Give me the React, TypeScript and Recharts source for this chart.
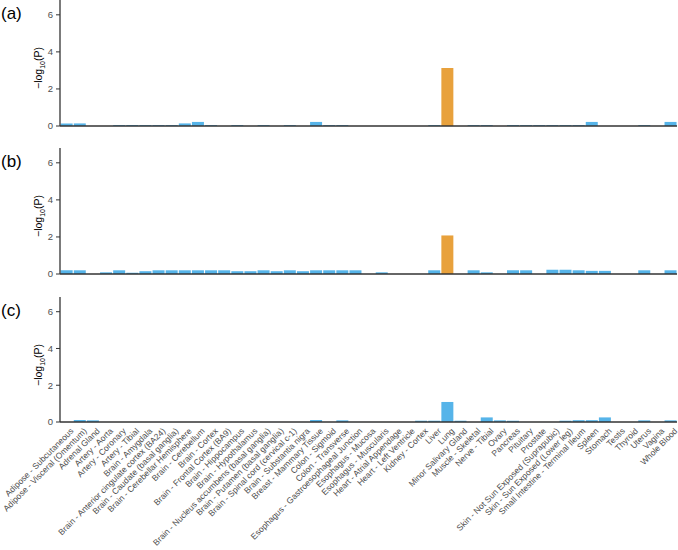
import React from 'react';
import { BarChart, Bar, XAxis, YAxis, Cell } from 'recharts';

const tissues = [
  'Adipose - Subcutaneous', 'Adipose - Visceral (Omentum)', 'Adrenal Gland', 'Artery - Aorta',
  'Artery - Coronary', 'Artery - Tibial', 'Brain - Amygdala', 'Brain - Anterior cingulate cortex (BA24)',
  'Brain - Caudate (basal ganglia)', 'Brain - Cerebellar Hemisphere', 'Brain - Cerebellum', 'Brain - Cortex',
  'Brain - Frontal Cortex (BA9)', 'Brain - Hippocampus', 'Brain - Hypothalamus',
  'Brain - Nucleus accumbens (basal ganglia)', 'Brain - Putamen (basal ganglia)',
  'Brain - Spinal cord (cervical c-1)', 'Brain - Substantia nigra', 'Breast - Mammary Tissue',
  'Colon - Sigmoid', 'Colon - Transverse', 'Esophagus - Gastroesophageal Junction', 'Esophagus - Mucosa',
  'Esophagus - Muscularis', 'Heart - Atrial Appendage', 'Heart - Left Ventricle', 'Kidney - Cortex',
  'Liver', 'Lung', 'Minor Salivary Gland', 'Muscle - Skeletal', 'Nerve - Tibial', 'Ovary', 'Pancreas',
  'Pituitary', 'Prostate', 'Skin - Not Sun Exposed (Suprapubic)', 'Skin - Sun Exposed (Lower leg)',
  'Small Intestine - Terminal Ileum', 'Spleen', 'Stomach', 'Testis', 'Thyroid', 'Uterus', 'Vagina',
  'Whole Blood',
];

// -log10(P) per tissue, panels (a), (b), (c)
const valuesA = [
  0.14, 0.14, 0, 0, 0.05, 0.05, 0.05, 0.05, 0.05, 0.14, 0.22, 0.05, 0, 0.05, 0, 0.05, 0, 0.05, 0, 0.22,
  0.05, 0.05, 0, 0, 0, 0, 0, 0, 0.05, 3.13, 0, 0.05, 0.05, 0, 0.05, 0.05, 0.05, 0.05, 0.05, 0.05, 0.22,
  0, 0, 0, 0.05, 0, 0.22,
];
const valuesB = [
  0.2, 0.2, 0, 0.09, 0.2, 0.07, 0.15, 0.2, 0.2, 0.2, 0.2, 0.2, 0.2, 0.15, 0.15, 0.2, 0.15, 0.2, 0.15, 0.2,
  0.2, 0.2, 0.2, 0, 0.09, 0, 0, 0, 0.2, 2.08, 0, 0.2, 0.09, 0, 0.2, 0.2, 0, 0.23, 0.23, 0.2, 0.17,
  0.17, 0, 0, 0.2, 0, 0.2,
];
const valuesC = [
  0, 0.11, 0.09, 0, 0, 0, 0, 0, 0, 0, 0, 0, 0, 0, 0, 0, 0, 0, 0, 0.11,
  0, 0.09, 0, 0, 0, 0, 0, 0.07, 0.07, 1.09, 0.07, 0, 0.25, 0.09, 0.07, 0, 0, 0, 0.07, 0.1, 0.1,
  0.25, 0, 0, 0.09, 0, 0.09,
];

const highlightA = ['Lung'];
const highlightB = ['Lung'];
const highlightC: string[] = [];

const yTicks = [0, 2, 4, 6];

const BLUE = '#56B4E9';
const ORANGE = '#E8A13C';
const AXIS = '#333333';
const TEXT = '#4D4D4D';
const FONT = '"Liberation Sans", Arial, sans-serif';

const AngledTick = (props: any) => {
  const { x, y, payload } = props;
  return (
    <g transform={`translate(${x + 4},${y + 4})`}>
      <text
        x={0}
        y={0}
        dy={5}
        textAnchor="end"
        transform="rotate(-45)"
        fontSize={8.5}
        fontFamily={FONT}
        fill={TEXT}
      >
        {payload.value}
      </text>
    </g>
  );
};

type PanelProps = {
  values: number[];
  highlight: string[];
  top: number;
  showLabels: boolean;
};

const Panel = ({ values, highlight, top, showLabels }: PanelProps) => {
  const data = tissues.map((t, i) => ({ tissue: t, value: values[i] }));
  const axisH = showLabels ? 128 : 4;
  const plotH = showLabels ? 125 : 126;
  return (
    <div style={{ position: 'absolute', left: 0, top }}>
      <BarChart
        width={678}
        height={plotH + axisH}
        data={data}
        margin={{ top: 0, right: 1, bottom: 0, left: 0 }}
        barCategoryGap="5%"
      >
        <XAxis
          dataKey="tissue"
          interval={0}
          height={axisH}
          tickLine={false}
          tickSize={0}
          tick={showLabels ? <AngledTick /> : false}
          axisLine={{ stroke: AXIS, strokeWidth: 1.3 }}
        />
        <YAxis
          width={60}
          domain={[0, 6.8]}
          ticks={yTicks}
          interval={0}
          tickSize={4}
          tickMargin={3}
          tickLine={{ stroke: AXIS }}
          axisLine={{ stroke: AXIS, strokeWidth: 1.3 }}
          tick={{ fontSize: 9.5, fill: TEXT, fontFamily: FONT }}
        />
        <Bar dataKey="value" isAnimationActive={false}>
          {data.map((d) => (
            <Cell key={d.tissue} fill={highlight.includes(d.tissue) ? ORANGE : BLUE} />
          ))}
        </Bar>
      </BarChart>
    </div>
  );
};

const panelTops = [0, 148, 297];
const panelLetters = ['(a)', '(b)', '(c)'];

const App = () => (
  <div style={{ position: 'absolute', left: 0, top: 0, width: 678, height: 550, background: '#fff', overflow: 'hidden' }}>
    <Panel values={valuesA} highlight={highlightA} top={panelTops[0]} showLabels={false} />
    <Panel values={valuesB} highlight={highlightB} top={panelTops[1]} showLabels={false} />
    <Panel values={valuesC} highlight={highlightC} top={panelTops[2]} showLabels={true} />
    <svg width={678} height={550} style={{ position: 'absolute', left: 0, top: 0, pointerEvents: 'none' }}>
      {panelTops.map((t, i) => (
        <g key={panelLetters[i]}>
          <text x={1} y={t + 19} fontSize={17} fontFamily={FONT} fill="#000">
            {panelLetters[i]}
          </text>
          <text
            transform={`translate(42,${t + 68}) rotate(-90)`}
            textAnchor="middle"
            fontSize={10.5}
            fontFamily={FONT}
            fill="#000"
          >
            −log<tspan fontSize={7} dy={2.5}>10</tspan>
            <tspan dy={-2.5}>(P)</tspan>
          </text>
        </g>
      ))}
    </svg>
  </div>
);

export default App;
